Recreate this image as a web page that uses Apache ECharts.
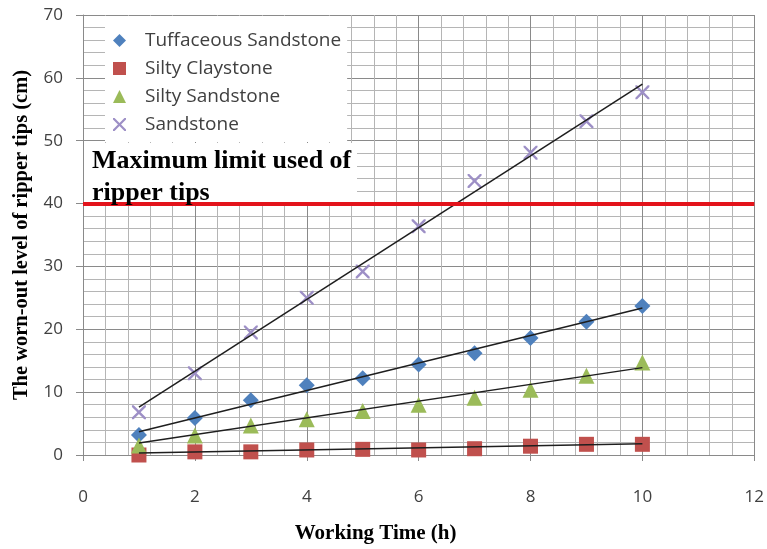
<!DOCTYPE html>
<html>
<head>
<meta charset="utf-8">
<script src="https://cdn.jsdelivr.net/npm/echarts@6/dist/echarts.min.js"></script>
<style>
html,body{margin:0;padding:0;background:#fff;}
#chart{width:767px;height:549px;}
</style>
</head>
<body>
<div id="chart"></div>
<script>
// ---- data ----
const xValues = [1, 2, 3, 4, 5, 6, 7, 8, 9, 10];
const seriesNames = ['Tuffaceous Sandstone', 'Silty Claystone', 'Silty Sandstone', 'Sandstone'];
const tuffaceous = [3.2, 5.9, 8.7, 11.1, 12.2, 14.4, 16.2, 18.6, 21.2, 23.7];
const siltyClaystone = [0.0, 0.5, 0.5, 0.8, 0.9, 0.8, 1.0, 1.4, 1.7, 1.7];
const siltySandstone = [1.5, 3.1, 4.7, 5.7, 7.0, 8.0, 9.1, 10.4, 12.6, 14.7];
const sandstone = [6.8, 13.0, 19.5, 25.0, 29.2, 36.4, 43.6, 48.1, 53.1, 57.7];
// trend line end points (x = 1 and x = 10)
const trendX = [1, 10];
const trendStart = [3.7, 0.3, 1.9, 7.6];
const trendEnd = [23.4, 1.8, 13.9, 59.0];
const limitValue = 40;
const annotationText = ['Maximum limit used of', 'ripper tips'];
const xAxisTitle = 'Working Time (h)';
const yAxisTitle = 'The worn-out level of ripper tips (cm)';

const valueSets = [tuffaceous, siltyClaystone, siltySandstone, sandstone];
const colors = ['#4f81bd', '#c0504d', '#9bbb59', '#9d8fc6'];
const crossPath = 'path://M0,0 L1.2,0 L5,3.8 L8.8,0 L10,0 L10,1.2 L6.2,5 L10,8.8 L10,10 L8.8,10 L5,6.2 L1.2,10 L0,10 L0,8.8 L3.8,5 L0,1.2 Z';
const symbols = ['diamond', 'rect', 'triangle', crossPath];
const symbolSizes = [16, 15, 16, 14];

const chart = echarts.init(document.getElementById('chart'));

const series = [];
valueSets.forEach((vals, i) => {
  series.push({
    name: seriesNames[i],
    type: 'scatter',
    data: xValues.map((x, k) => [x, vals[k]]),
    symbol: symbols[i],
    symbolSize: symbolSizes[i],
    itemStyle: { color: colors[i], opacity: 1 },
    z: 3
  });
});
valueSets.forEach((vals, i) => {
  series.push({
    name: 'trend' + i,
    type: 'line',
    data: [[trendX[0], trendStart[i]], [trendX[1], trendEnd[i]]],
    showSymbol: false,
    symbol: 'none',
    silent: true,
    lineStyle: { color: '#1e1e1e', width: 1.5 },
    z: 4
  });
});
series.push({
  name: 'limit',
  type: 'line',
  data: [],
  silent: true,
  markLine: {
    silent: true,
    symbol: 'none',
    label: { show: false },
    lineStyle: { color: '#e3131b', width: 4, type: 'solid' },
    data: [{ yAxis: limitValue }]
  },
  z: 2
});

const option = {
  animation: false,
  backgroundColor: '#ffffff',
  grid: { left: 83, right: 12, top: 15, bottom: 87, containLabel: false },
  xAxis: {
    type: 'value',
    min: 0, max: 12, interval: 2,
    name: xAxisTitle,
    nameLocation: 'middle',
    nameGap: 68,
    nameTextStyle: { fontFamily: 'Liberation Serif', fontWeight: 'bold', fontSize: 21, color: '#000', padding: [0, 86, 0, 0] },
    axisLine: { show: true, lineStyle: { color: '#8a8a8a', width: 1 } },
    axisTick: { show: true, length: 6, lineStyle: { color: '#8a8a8a' } },
    axisLabel: { margin: 34, fontFamily: 'Open Sans', fontSize: 17, color: '#404040' },
    splitLine: { show: true, lineStyle: { color: '#8a8a8a', width: 1 } },
    minorTick: { show: false, splitNumber: 5 },
    minorSplitLine: { show: true, lineStyle: { color: '#b5b5b5', width: 1 } }
  },
  yAxis: {
    type: 'value',
    min: 0, max: 70, interval: 10,
    name: yAxisTitle,
    nameLocation: 'middle',
    nameGap: 42,
    nameTextStyle: { fontFamily: 'Liberation Serif', fontWeight: 'bold', fontSize: 20.5, color: '#000' },
    axisLine: { show: true, lineStyle: { color: '#8a8a8a', width: 1 } },
    axisTick: { show: true, length: 7, lineStyle: { color: '#8a8a8a' } },
    axisLabel: { margin: 20, fontFamily: 'Open Sans', fontSize: 17, color: '#404040' },
    splitLine: { show: true, lineStyle: { color: '#8a8a8a', width: 1 } },
    minorTick: { show: false, splitNumber: 5 },
    minorSplitLine: { show: true, lineStyle: { color: '#b5b5b5', width: 1 } }
  },
  legend: {
    data: seriesNames,
    orient: 'vertical',
    left: 105,
    top: 16,
    backgroundColor: '#ffffff',
    padding: [15, 6, 8, 8],
    itemGap: 9,
    itemWidth: 13,
    itemHeight: 13,
    textStyle: { fontFamily: 'Open Sans', fontSize: 19, color: '#404040', padding: [0, 0, 0, 14] },
    z: 10
  },
  graphic: [
    {
      type: 'rect',
      left: 84, top: 143,
      shape: { width: 273, height: 60 },
      style: { fill: '#ffffff' },
      z: 5,
      silent: true
    },
    {
      type: 'text',
      left: 92, top: 145,
      style: {
        text: annotationText.join('\n'),
        font: 'bold 26px "Liberation Serif"',
        fill: '#000',
        lineHeight: 32
      },
      z: 6,
      silent: true
    }
  ],
  series: series
};
chart.setOption(option);
</script>
</body>
</html>
